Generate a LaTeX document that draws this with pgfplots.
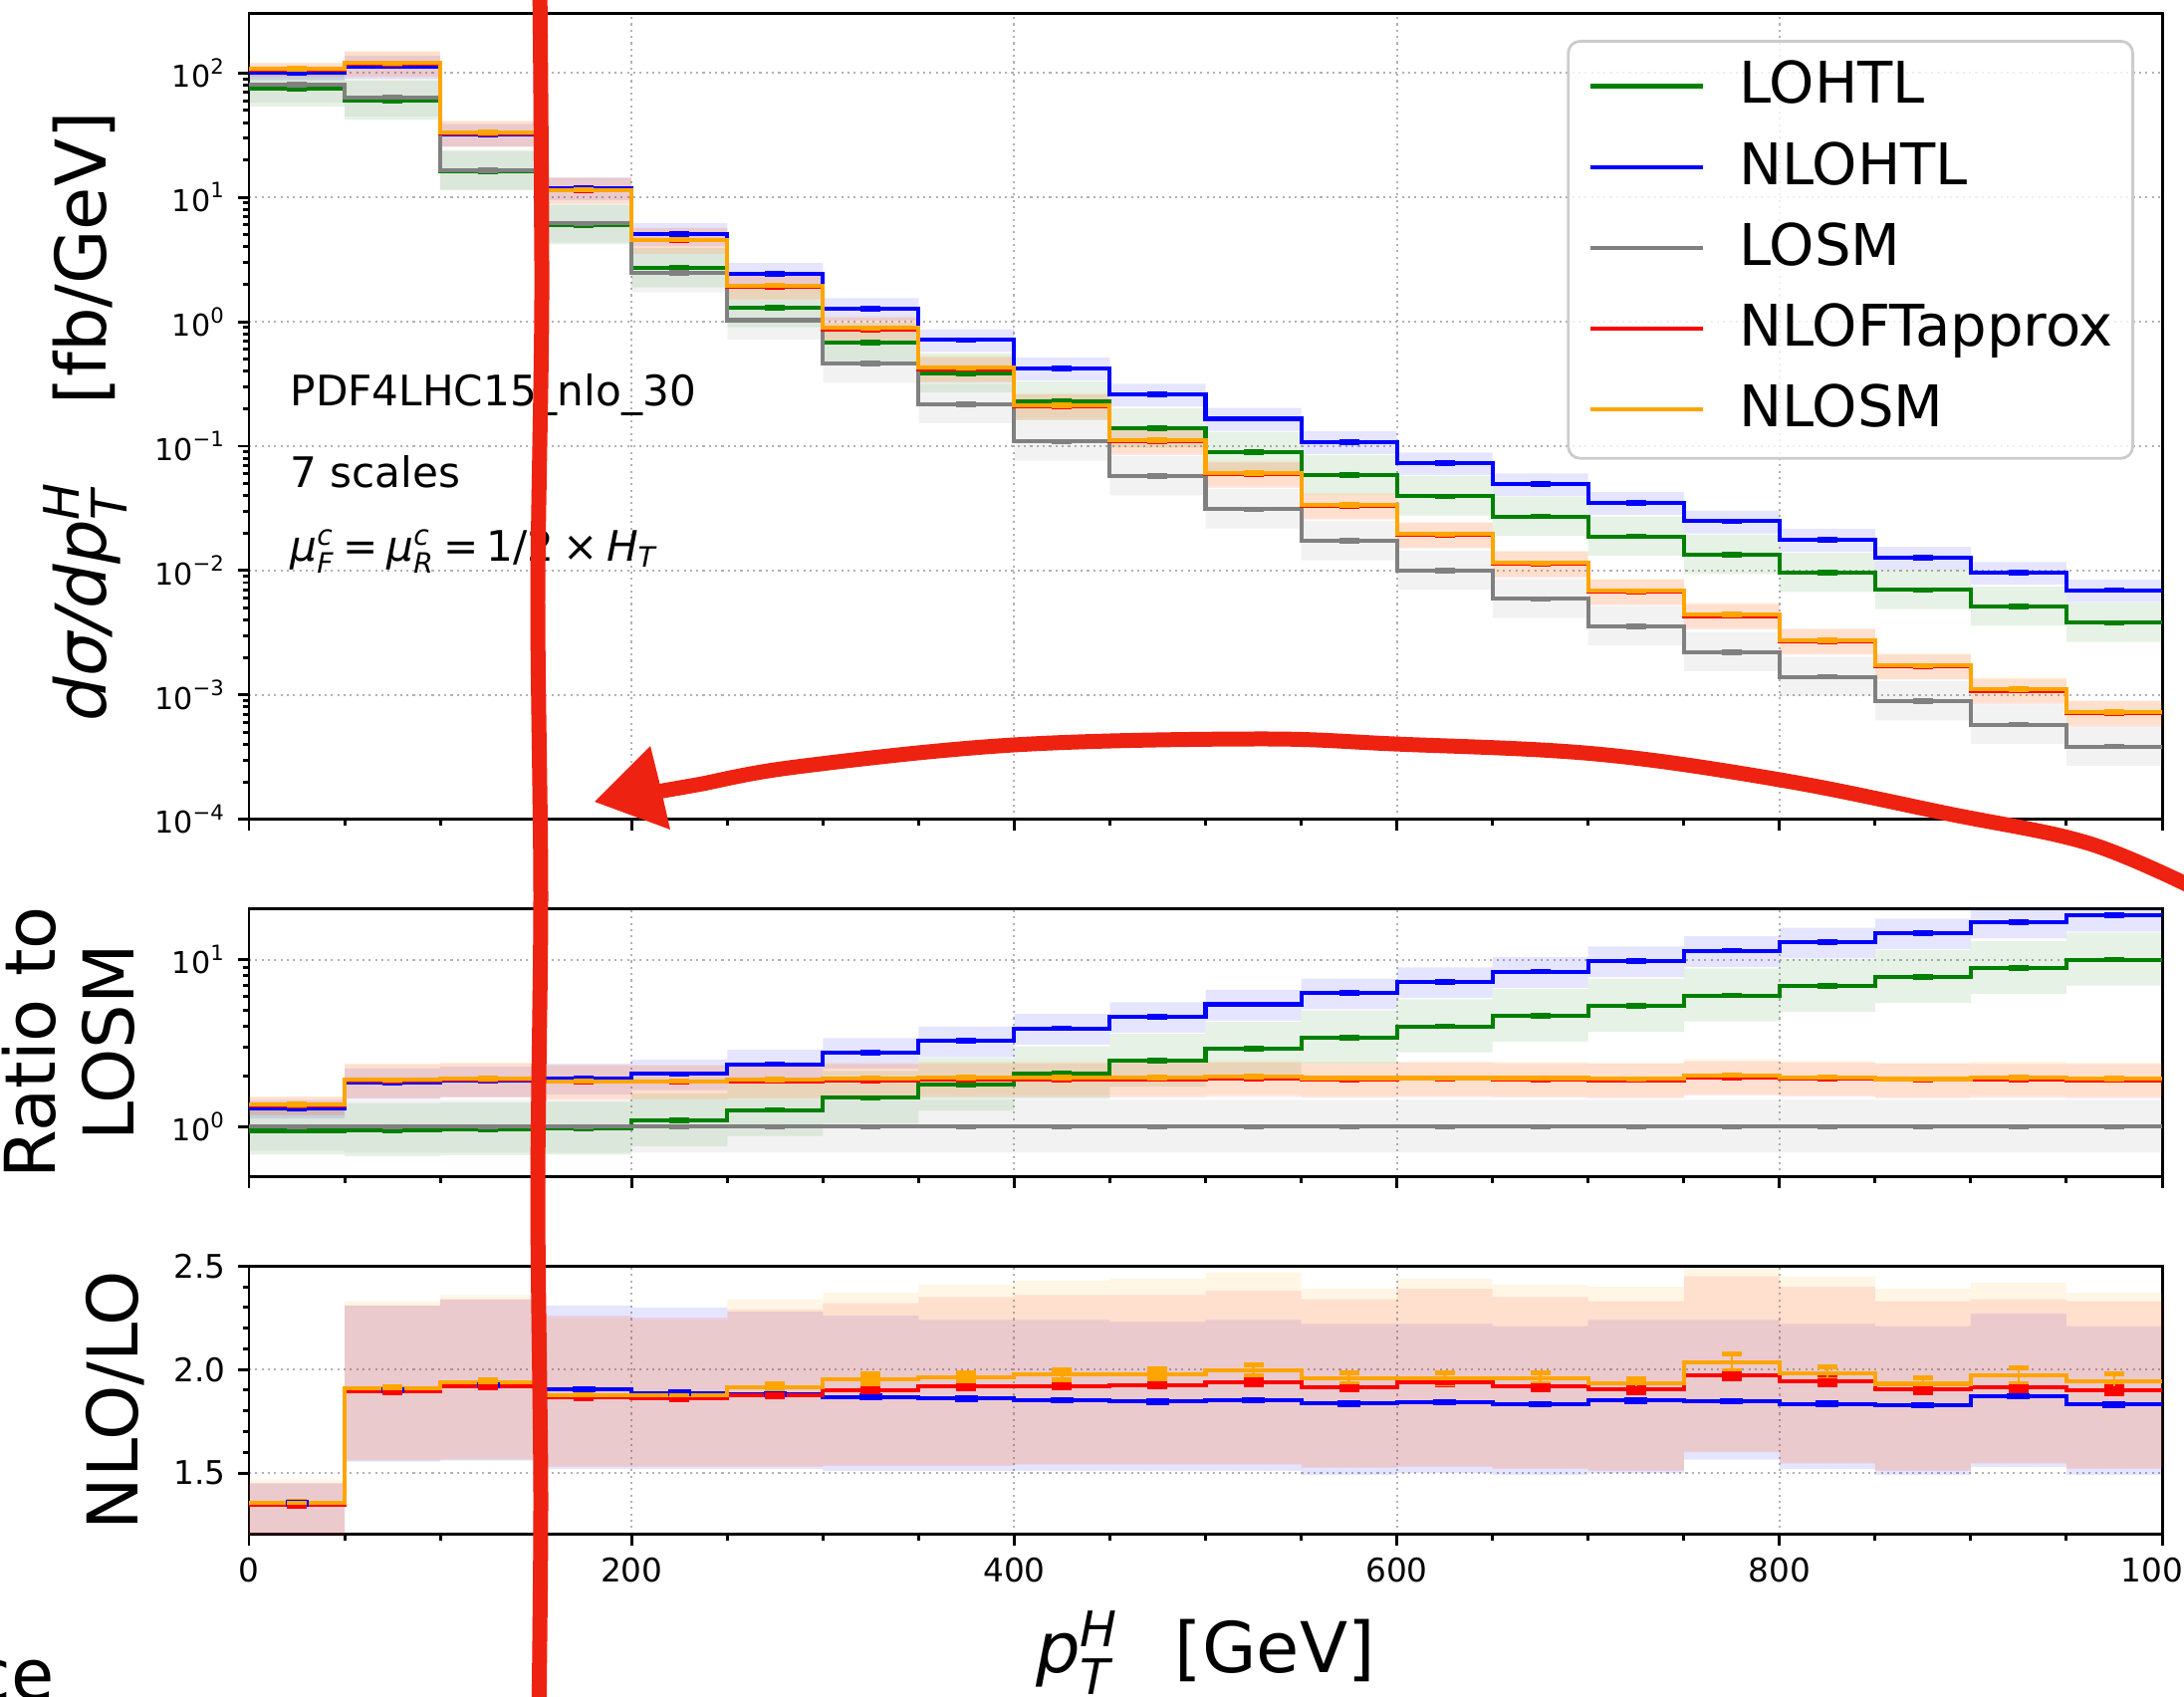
\documentclass[border=0pt]{standalone}
\usepackage{amsmath}
\usepackage{fontspec}
\setmainfont{DejaVu Sans}
\usepackage{pgfplots}
\pgfplotsset{compat=1.18}
\usepackage{pgfplotstable}
\usepgfplotslibrary{fillbetween}

\definecolor{mgreen}{RGB}{0,128,0}
\definecolor{mblue}{RGB}{0,0,255}
\definecolor{mgray}{RGB}{128,128,128}
\definecolor{mred}{RGB}{255,0,0}
\definecolor{morange}{RGB}{255,165,0}
\definecolor{scrib}{RGB}{238,34,17}

\newcommand{\supsub}[2]{$^{\text{\itshape #1}}_{\text{\itshape #2}}$}

% dsigma/dpT per bin (lower edge lo); c = central, l/h = scale band
\pgfplotstableread{
lo g gl gh b bl bh k kl kh r rl rh o ol oh
0 74.5 53.6 102.8 101 87.9 113 80.7 58.1 111.4 107.1 93.2 120 108 94.0 121
50 60 42.0 87.0 113 90.4 137.9 63.8 44.7 92.5 119.2 93.0 149 120 93.6 150
100 16.3 11.4 23.6 31.9 25.5 38.9 16.6 11.6 24.1 32.7 25.5 40.9 33.1 25.8 41.4
150 6.0 4.20 8.70 11.9 9.52 14.5 6.18 4.33 8.96 11.45 8.93 14.3 11.5 8.97 14.4
200 2.70 1.89 3.92 5.08 4.06 6.20 2.46 1.72 3.57 4.54 3.54 5.68 4.57 3.56 5.71
250 1.29 0.903 1.87 2.43 1.94 2.96 1.03 0.721 1.49 1.92 1.50 2.40 1.96 1.53 2.45
300 0.68 0.476 0.986 1.27 1.016 1.55 0.462 0.323 0.670 0.865 0.675 1.081 0.891 0.695 1.114
350 0.385 0.270 0.558 0.714 0.571 0.871 0.218 0.153 0.316 0.416 0.324 0.52 0.426 0.332 0.533
400 0.228 0.160 0.331 0.422 0.338 0.515 0.109 0.0763 0.158 0.208 0.162 0.26 0.214 0.167 0.268
450 0.139 0.0973 0.202 0.26 0.208 0.317 0.0575 0.0403 0.0834 0.109 0.085 0.136 0.112 0.0874 0.14
500 0.090 0.063 0.1305 0.166 0.133 0.2025 0.0311 0.0218 0.0451 0.0593 0.0463 0.0741 0.0611 0.0477 0.0764
550 0.0586 0.0410 0.0850 0.108 0.0864 0.132 0.0173 0.0121 0.0251 0.0329 0.0257 0.0411 0.0337 0.0263 0.0421
600 0.0395 0.02765 0.0573 0.073 0.0584 0.0891 0.0100 0.0070 0.0145 0.0194 0.0151 0.02425 0.0196 0.0153 0.0245
650 0.0272 0.0190 0.0394 0.0496 0.0397 0.0605 0.00591 0.00414 0.00857 0.0113 0.00881 0.01413 0.0115 0.00897 0.01438
700 0.0188 0.01316 0.02726 0.035 0.028 0.0427 0.00357 0.0025 0.00518 0.00676 0.00527 0.00845 0.00686 0.00535 0.00858
750 0.0134 0.00938 0.01943 0.0249 0.0199 0.0304 0.00221 0.00155 0.0032 0.0043 0.00335 0.00538 0.00443 0.00346 0.00554
800 0.00961 0.00673 0.01393 0.0177 0.01416 0.0216 0.0014 0.00098 0.00203 0.0027 0.00211 0.00338 0.00275 0.00215 0.00344
850 0.00698 0.00489 0.01012 0.0127 0.01016 0.0155 0.00089 0.000623 0.00129 0.0017 0.00133 0.00213 0.00172 0.00134 0.00215
900 0.00514 0.0036 0.00745 0.0096 0.00768 0.01171 0.000577 0.000404 0.000837 0.00108 0.000842 0.00135 0.00111 0.000866 0.00139
950 0.0038 0.00266 0.00551 0.00695 0.00556 0.00848 0.000385 0.00027 0.000558 0.000713 0.000556 0.000891 0.000728 0.000568 0.00091
1000 0.0038 0.00266 0.00551 0.00695 0.00556 0.00848 0.000385 0.00027 0.000558 0.000713 0.000556 0.000891 0.000728 0.000568 0.00091
}\toptab

% ratio to LOSM
\pgfplotstableread{
lo g gl gh b bl bh k kl kh r rl rh o ol oh
0 0.946 0.681 1.305 1.29 1.12 1.445 1 0.72 1.38 1.346 1.171 1.508 1.357 1.181 1.52
50 0.955 0.669 1.385 1.83 1.464 2.23 1 0.70 1.45 1.895 1.478 2.369 1.908 1.488 2.385
100 0.964 0.675 1.398 1.88 1.504 2.29 1 0.70 1.45 1.918 1.496 2.398 1.94 1.513 2.425
150 0.973 0.681 1.411 1.95 1.56 2.38 1 0.70 1.45 1.868 1.457 2.335 1.875 1.463 2.344
200 1.09 0.763 1.58 2.07 1.656 2.525 1 0.70 1.45 1.863 1.453 2.329 1.876 1.463 2.345
250 1.26 0.882 1.83 2.37 1.896 2.89 1 0.70 1.45 1.876 1.463 2.345 1.915 1.494 2.394
300 1.49 1.043 2.16 2.78 2.224 3.39 1 0.70 1.45 1.899 1.481 2.374 1.955 1.525 2.444
350 1.78 1.246 2.58 3.26 2.608 3.98 1 0.70 1.45 1.918 1.496 2.398 1.963 1.531 2.454
400 2.09 1.463 3.03 3.88 3.104 4.73 1 0.70 1.45 1.92 1.498 2.40 1.976 1.541 2.47
450 2.48 1.736 3.60 4.56 3.648 5.56 1 0.70 1.45 1.926 1.502 2.408 1.979 1.544 2.474
500 2.94 2.06 4.26 5.40 4.32 6.59 1 0.70 1.45 1.937 1.511 2.421 1.997 1.558 2.496
550 3.42 2.39 4.96 6.31 5.05 7.70 1 0.70 1.45 1.912 1.491 2.39 1.957 1.526 2.446
600 3.99 2.79 5.79 7.36 5.89 8.98 1 0.70 1.45 1.94 1.513 2.425 1.957 1.526 2.446
650 4.60 3.22 6.67 8.48 6.78 10.35 1 0.70 1.45 1.918 1.496 2.398 1.957 1.526 2.446
700 5.30 3.71 7.69 9.82 7.86 11.98 1 0.70 1.45 1.904 1.485 2.38 1.932 1.507 2.415
750 6.10 4.27 8.85 11.3 9.04 13.79 1 0.70 1.45 1.974 1.54 2.468 2.035 1.587 2.544
800 6.94 4.86 10.06 12.7 10.16 15.49 1 0.70 1.45 1.942 1.515 2.428 1.982 1.546 2.478
850 7.88 5.52 11.43 14.4 11.52 17.57 1 0.70 1.45 1.905 1.486 2.381 1.931 1.506 2.414
900 8.88 6.22 12.88 16.7 13.36 20.37 1 0.70 1.45 1.913 1.492 2.391 1.971 1.537 2.464
950 10.0 7.0 14.5 18.4 14.72 22.45 1 0.70 1.45 1.902 1.484 2.378 1.941 1.514 2.426
1000 10.0 7.0 14.5 18.4 14.72 22.45 1 0.70 1.45 1.902 1.484 2.378 1.941 1.514 2.426
}\midtab

% NLO/LO
\pgfplotstableread{
lo b bl bh r rl rh re o ol oh oe
0 1.355 1.15 1.45 1.346 1.15 1.45 0.005 1.357 1.155 1.47 0.008
50 1.90 1.555 2.31 1.895 1.56 2.31 0.005 1.908 1.565 2.33 0.008
100 1.924 1.56 2.34 1.918 1.565 2.34 0.006 1.94 1.57 2.36 0.01
150 1.904 1.52 2.31 1.868 1.53 2.26 0.006 1.875 1.535 2.25 0.012
200 1.887 1.52 2.30 1.863 1.53 2.25 0.006 1.876 1.535 2.24 0.012
250 1.88 1.52 2.28 1.876 1.53 2.29 0.006 1.915 1.535 2.34 0.015
300 1.867 1.51 2.26 1.899 1.535 2.32 0.008 1.955 1.54 2.37 0.022
350 1.860 1.51 2.24 1.918 1.535 2.35 0.008 1.963 1.54 2.41 0.022
400 1.852 1.51 2.24 1.92 1.54 2.36 0.009 1.976 1.545 2.43 0.024
450 1.846 1.51 2.23 1.926 1.54 2.36 0.01 1.979 1.545 2.44 0.025
500 1.852 1.51 2.24 1.937 1.54 2.38 0.01 1.997 1.545 2.47 0.025
550 1.836 1.49 2.22 1.912 1.525 2.34 0.01 1.957 1.53 2.39 0.025
600 1.842 1.50 2.22 1.94 1.53 2.39 0.012 1.957 1.535 2.44 0.025
650 1.833 1.49 2.21 1.918 1.52 2.35 0.013 1.957 1.525 2.41 0.027
700 1.85 1.50 2.24 1.904 1.51 2.33 0.013 1.932 1.515 2.40 0.025
750 1.847 1.565 2.24 1.974 1.60 2.45 0.017 2.035 1.605 2.49 0.04
800 1.834 1.52 2.22 1.942 1.545 2.40 0.016 1.982 1.55 2.45 0.03
850 1.828 1.49 2.21 1.905 1.51 2.33 0.016 1.931 1.515 2.39 0.028
900 1.871 1.53 2.27 1.913 1.545 2.34 0.017 1.971 1.55 2.42 0.038
950 1.831 1.49 2.21 1.902 1.52 2.33 0.018 1.941 1.525 2.37 0.04
1000 1.831 1.49 2.21 1.902 1.52 2.33 0.018 1.941 1.525 2.37 0.04
}\bottab

% band: table, low col, high col, colour, path id
\newcommand{\band}[5]{%
  \addplot[name path=#5l, draw=none, const plot, forget plot] table[x=lo, y=#2]{#1};
  \addplot[name path=#5h, draw=none, const plot, forget plot] table[x=lo, y=#3]{#1};
  \addplot[fill=#4, fill opacity=0.1, draw=none, forget plot] fill between[of=#5l and #5h];
}
\newcommand{\hist}[3]{%
  \addplot[#3, line width=1.15pt, const plot] table[x=lo, y=#2]{#1};
}
\newcommand{\cen}[3]{%
  \addplot[#3, only marks, mark=-, mark size=0.1cm, mark options={line width=1.6pt}, forget plot, restrict x to domain=0:990] table[x expr=\thisrow{lo}+25, y=#2]{#1};
}

\pgfplotsset{
  panel/.style={
    scale only axis, width=19.21cm,
    xmin=0, xmax=1000,
    xtick={0,200,...,1000}, minor x tick num=3,
    tick align=outside, xtick pos=left, ytick pos=left,
    grid=major,
    grid style={dash pattern=on 0.6pt off 1.2pt, line width=0.55pt, color=black!30},
    axis line style={line width=0.85pt},
    tick style={line width=0.85pt, black},
    major tick length=0.11cm, minor tick length=0.06cm,
    tick label style={font=\fontsize{9.3}{11}\selectfont},
    /pgf/number format/assume math mode=true,
    /pgf/number format/1000 sep={},
    ylabel style={font=\fontsize{20}{23}\selectfont, align=center, anchor=center},
  },
}

\begin{document}
\begin{tikzpicture}

% ---- top panel ----
\begin{axis}[panel,
  at={(2.50cm,-0.14cm)}, anchor=north west, height=8.087cm,
  ymode=log, ymin=1e-4, ymax=298.5,
  ytick={1e-4,1e-3,1e-2,1e-1,1,10,100},
  yticklabels={10\textsuperscript{−4},10\textsuperscript{−3},10\textsuperscript{−2},10\textsuperscript{−1},10\textsuperscript{0},10\textsuperscript{1},10\textsuperscript{2}},
  yticklabel style={font=\fontsize{8.6}{10}\selectfont},
  xticklabels={},
  ylabel={{\itshape dσ/dp}\supsub{H}{T}\hspace{1.1em}[fb/GeV]},
  ylabel style={at={(axis description cs:-0.0856,0.5)}},
  legend style={at={(1,1)}, anchor=north east, xshift=-0.28cm, yshift=-0.26cm,
    draw=black!20, line width=0.8pt, rounded corners=0.12cm,
    fill=white, fill opacity=0.8, text opacity=1,
    font=\fontsize{16.4}{19}\selectfont,
    inner xsep=0.2cm, inner ysep=0.26cm, row sep=0.39cm,
    nodes={inner sep=0pt, text height=10.4pt, text depth=1.6pt}},
  legend cell align=left,
  legend image code/.code={\path (0cm,0cm); \draw[#1, line width=1.15pt] (0cm,0.02cm) -- (1.13cm,0.02cm); \path (1.48cm,0.02cm);},
]
\band{\toptab}{gl}{gh}{mgreen}{tg}
\band{\toptab}{bl}{bh}{mblue}{tb}
\band{\toptab}{kl}{kh}{mgray}{tk}
\band{\toptab}{rl}{rh}{mred}{tr}
\band{\toptab}{ol}{oh}{morange}{to}
\hist{\toptab}{g}{mgreen}
\hist{\toptab}{b}{mblue}
\hist{\toptab}{k}{mgray}
\hist{\toptab}{r}{mred}
\hist{\toptab}{o}{morange}
\cen{\toptab}{g}{mgreen}
\cen{\toptab}{b}{mblue}
\cen{\toptab}{k}{mgray}
\cen{\toptab}{r}{mred}
\cen{\toptab}{o}{morange}
\legend{LOHTL,NLOHTL,LOSM,NLOFTapprox,NLOSM}
\node[anchor=base west, inner sep=0pt, font=\fontsize{12}{14}\selectfont] at (rel axis cs:0.0213,0.514) {PDF4LHC15\_nlo\_30};
\node[anchor=base west, inner sep=0pt, font=\fontsize{12}{14}\selectfont] at (rel axis cs:0.0213,0.412) {7 scales};
\node[anchor=base west, inner sep=0pt, font=\fontsize{12}{14}\selectfont] at (rel axis cs:0.0213,0.321)
  {{\itshape μ}\supsub{c}{F}\hspace{0.2em}=\hspace{0.2em}{\itshape μ}\supsub{c}{R}\hspace{0.2em}=\hspace{0.2em}1/2\hspace{0.2em}×\hspace{0.2em}{\itshape H}$_{\text{\itshape T}}$};
\end{axis}

% ---- ratio to LOSM ----
\begin{axis}[panel,
  at={(2.50cm,-9.123cm)}, anchor=north west, height=2.694cm,
  ymode=log, ymin=0.502, ymax=20.2,
  ytick={1,10},
  yticklabels={10\textsuperscript{0},10\textsuperscript{1}},
  yticklabel style={font=\fontsize{8.6}{10}\selectfont},
  xticklabels={},
  ylabel={Ratio to\\LOSM},
  ylabel style={at={(axis description cs:-0.0942,0.5)}, font=\fontsize{20}{22.5}\selectfont},
]
\band{\midtab}{gl}{gh}{mgreen}{mg}
\band{\midtab}{bl}{bh}{mblue}{mb}
\band{\midtab}{kl}{kh}{mgray}{mk}
\band{\midtab}{rl}{rh}{mred}{mr}
\band{\midtab}{ol}{oh}{morange}{mo}
\hist{\midtab}{g}{mgreen}
\hist{\midtab}{b}{mblue}
\hist{\midtab}{k}{mgray}
\hist{\midtab}{r}{mred}
\hist{\midtab}{o}{morange}
\cen{\midtab}{g}{mgreen}
\cen{\midtab}{b}{mblue}
\cen{\midtab}{k}{mgray}
\cen{\midtab}{r}{mred}
\cen{\midtab}{o}{morange}
\end{axis}

% ---- NLO/LO ----
\begin{axis}[panel,
  at={(2.50cm,-12.713cm)}, anchor=north west, height=2.694cm,
  ymin=1.2033, ymax=2.5,
  ytick={1.5,2.0,2.5}, minor y tick num=4,
  yticklabel style={/pgf/number format/.cd, fixed, fixed zerofill, precision=1},
  ylabel={NLO/LO},
  ylabel style={at={(axis description cs:-0.0698,0.5)}},
  xlabel={{\itshape p}\supsub{H}{T}\hspace{0.8em}[GeV]},
  xlabel style={at={(axis description cs:0.5,-0.517)}, anchor=base, font=\fontsize{20}{24}\selectfont},
]
\band{\bottab}{bl}{bh}{mblue}{bb}
\band{\bottab}{rl}{rh}{mred}{br}
\band{\bottab}{ol}{oh}{morange}{bo}
\hist{\bottab}{b}{mblue}
\hist{\bottab}{r}{mred}
\hist{\bottab}{o}{morange}
\addplot[mblue, only marks, mark=-, mark size=0.115cm, mark options={line width=1.9pt}, forget plot, restrict x to domain=0:990]
  table[x expr=\thisrow{lo}+25, y=b]{\bottab};
\addplot[mred, only marks, mark=-, mark size=0.1cm, mark options={line width=1.9pt}, forget plot, restrict x to domain=0:990,
  error bars/.cd, y dir=both, y explicit, error bar style={line width=0.6pt},
  error mark options={rotate=90, mark size=0.1cm, line width=1.6pt}]
  table[x expr=\thisrow{lo}+25, y=r, y error=re]{\bottab};
\addplot[morange, only marks, mark=-, mark size=0.1cm, mark options={line width=1.2pt}, forget plot, restrict x to domain=0:990,
  error bars/.cd, y dir=both, y explicit, error bar style={line width=0.7pt},
  error mark options={rotate=90, mark size=0.1cm, line width=1.4pt}]
  table[x expr=\thisrow{lo}+25, y=o, y error=oe]{\bottab};
\end{axis}

% cut-off text at the lower left
\node[anchor=base east, inner sep=0pt, font=\fontsize{20}{24}\selectfont] at (0.55cm,-17.06cm) {ce};

% red hand-drawn marks
\draw[scrib, line width=0.15cm, line cap=round] plot[smooth] coordinates {(5.42,0.2) (5.44,-3) (5.40,-6) (5.43,-9) (5.40,-12) (5.43,-15) (5.41,-17.3)};
\draw[scrib, line width=0.15cm, line cap=round] plot[smooth, tension=0.6] coordinates {(22.1,-8.95) (20.98,-8.47) (19.56,-8.17) (17.87,-7.83) (16.02,-7.57) (14.00,-7.47) (12.61,-7.42) (10.18,-7.48) (8.00,-7.70) (7.00,-7.88) (6.6,-7.95)};
\fill[scrib] (5.97,-8.05) -- (6.53,-7.49) -- (6.62,-7.85) -- (6.73,-8.33) -- cycle;

\pgfresetboundingbox
\path[use as bounding box] (0,0) rectangle (21.93cm,-17.04cm);
\end{tikzpicture}
\end{document}
